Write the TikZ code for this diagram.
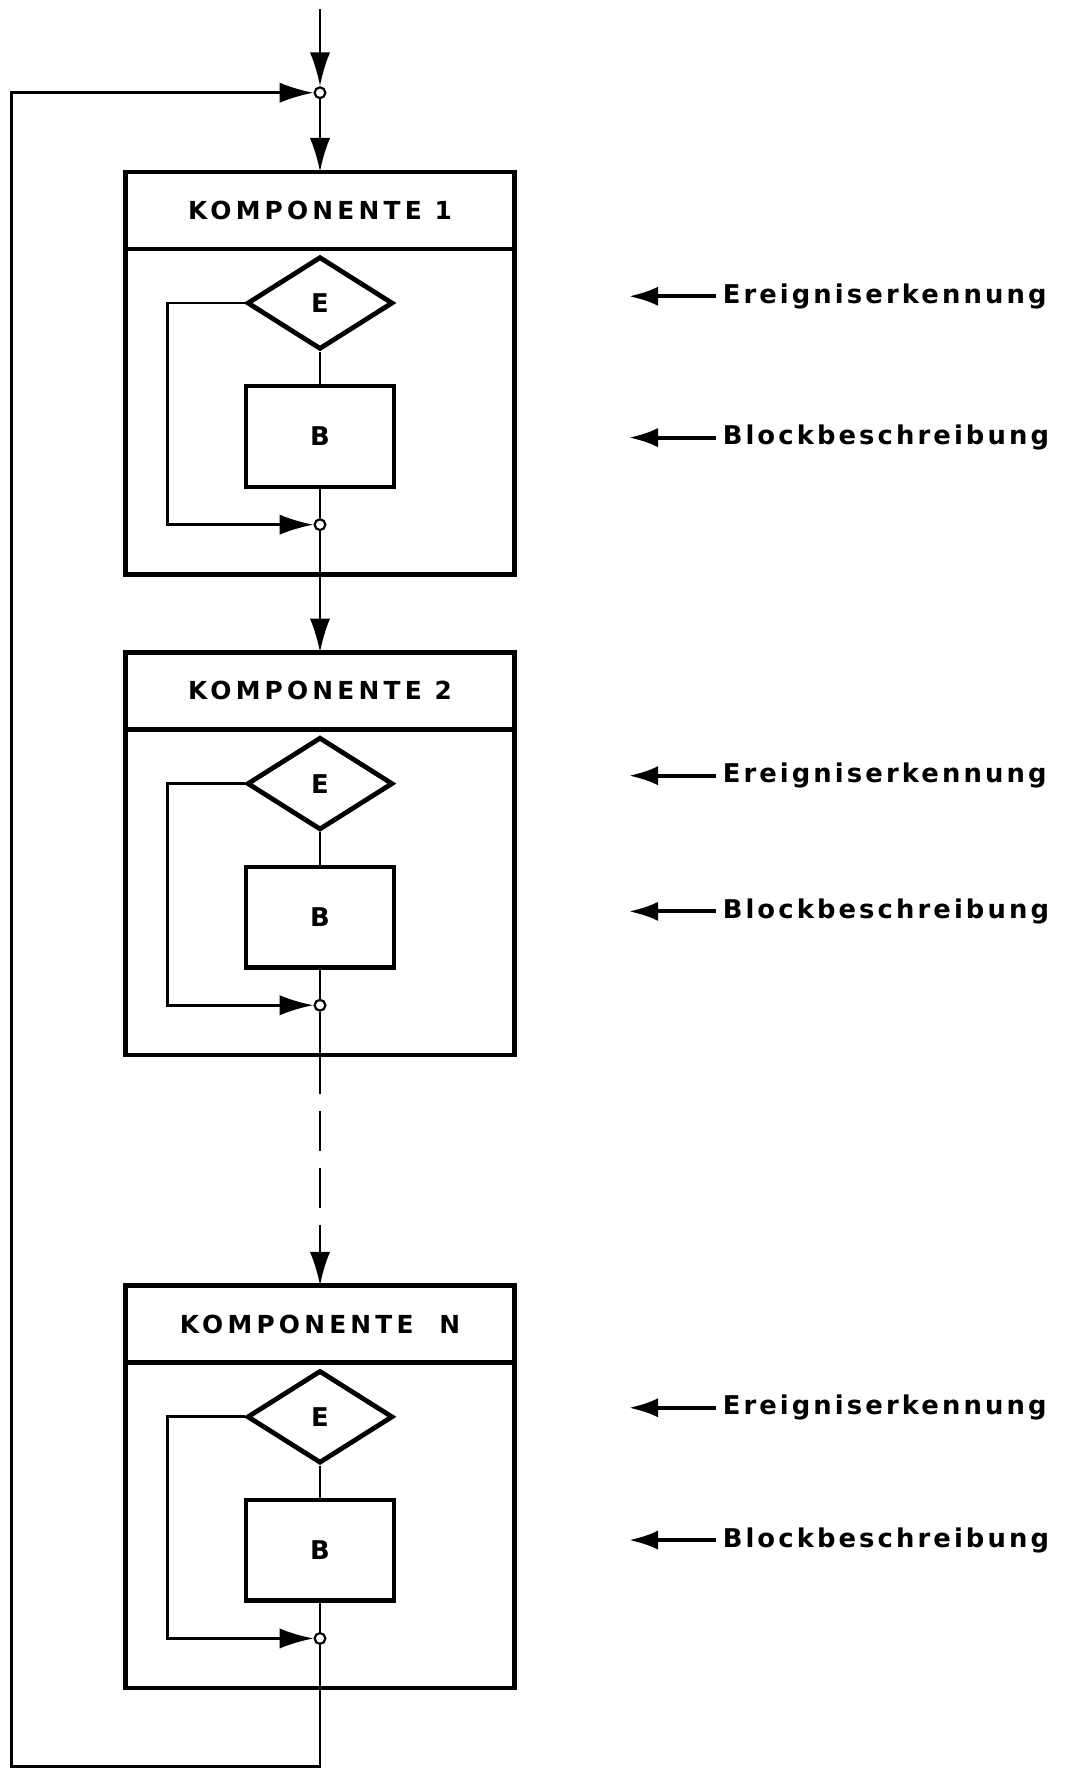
\documentclass[tikz,border=0pt]{standalone}
\usepackage{fontspec}
\setmainfont{DejaVu Sans}
\newfontfamily\kopfschrift[LetterSpace=17]{DejaVu Sans}
\newfontfamily\randschrift[LetterSpace=12]{DejaVu Sans}
\usetikzlibrary{arrows.meta,positioning,shapes.geometric}

\begin{document}
\begin{tikzpicture}[
    x=0.02cm,y=-0.02cm,
    kopf/.style={draw,line width=2.2pt,outer sep=0pt,minimum width=6.88cm,minimum height=1.36cm,font=\kopfschrift\bfseries\fontsize{12.5}{15}\selectfont},
    rumpf/.style={draw,line width=2.2pt,outer sep=0pt,minimum width=6.88cm,minimum height=5.76cm},
    raute/.style={diamond,draw,line width=2.4pt,aspect=1.57,minimum width=2.58cm,minimum height=1.64cm,inner sep=0pt,font=\bfseries\fontsize{13}{15}\selectfont},
    block/.style={draw,line width=2.2pt,minimum width=2.62cm,minimum height=1.78cm,font=\bfseries\fontsize{13}{15}\selectfont},
    punkt/.style={circle,draw,fill=white,line width=1.1pt,inner sep=0pt,minimum size=0.19cm},
    fluss/.style={line width=1.4pt},
    arr/.style={fluss,-{Latex[length=0.6cm,width=0.36cm]}},
    lab/.style={anchor=west,font=\randschrift\bfseries\fontsize{13}{15}\selectfont},
    labarr/.style={line width=2pt,-{Latex[length=0.52cm,width=0.34cm]}}
]
\useasboundingbox (0,0) rectangle (955,1568);

% Eingang
\coordinate (ein) at (283,8);
\node[punkt] (mix) at (283,82) {};

% Komponente 1
\node[kopf] (k1) at (283,186) {KOMPONENTE 1};
\node[rumpf,below=0pt of k1] (r1) {};
\node[raute] (e1) at (283,268) {E};
\node[block] (b1) at (283,386) {B};
\node[punkt] (z1) at (283,464) {};

% Komponente 2
\node[kopf] (k2) at (283,611) {KOMPONENTE 2};
\node[rumpf,below=0pt of k2] (r2) {};
\node[raute] (e2) at (283,693) {E};
\node[block] (b2) at (283,811) {B};
\node[punkt] (z2) at (283,889) {};

% Komponente N
\node[kopf] (kN) at (283,1171) {KOMPONENTE\ \ N};
\node[rumpf,below=0pt of kN] (rN) {};
\node[raute] (eN) at (283,1253) {E};
\node[block] (bN) at (283,1371) {B};
\node[punkt] (zN) at (283,1449) {};

\coordinate (ecke) at (10,1562);

\draw[arr] (ein) -- (mix);
\draw[arr] (mix) -- (k1);
\draw[fluss] (e1) -- (b1);
\draw[fluss] (b1) -- (z1);
\draw[arr] (e1.west) -- ++(-68,0) |- (z1);
\draw[arr] (z1) -- (k2);
\draw[fluss] (e2) -- (b2);
\draw[fluss] (b2) -- (z2);
\draw[arr] (e2.west) -- ++(-68,0) |- (z2);
\draw[fluss] (z2) -- (r2.south);
\draw[arr,dash pattern=on 0.7cm off 0.3cm] (r2.south) -- (kN);
\draw[fluss] (eN) -- (bN);
\draw[fluss] (bN) -- (zN);
\draw[arr] (eN.west) -- ++(-68,0) |- (zN);
\draw[arr] (zN) |- (ecke) |- (mix);

% Beschriftung rechts
\node[lab] (le1) at (633,262) {Ereigniserkennung};
\node[lab] (lb1) at (633,387) {Blockbeschreibung};
\node[lab] (le2) at (633,686) {Ereigniserkennung};
\node[lab] (lb2) at (633,806) {Blockbeschreibung};
\node[lab] (leN) at (633,1245) {Ereigniserkennung};
\node[lab] (lbN) at (633,1362) {Blockbeschreibung};
\coordinate (pe1) at (556,262);
\coordinate (pb1) at (556,387);
\coordinate (pe2) at (556,686);
\coordinate (pb2) at (556,806);
\coordinate (peN) at (556,1245);
\coordinate (pbN) at (556,1362);
\draw[labarr] (le1) -- (pe1);
\draw[labarr] (lb1) -- (pb1);
\draw[labarr] (le2) -- (pe2);
\draw[labarr] (lb2) -- (pb2);
\draw[labarr] (leN) -- (peN);
\draw[labarr] (lbN) -- (pbN);
\end{tikzpicture}
\end{document}
